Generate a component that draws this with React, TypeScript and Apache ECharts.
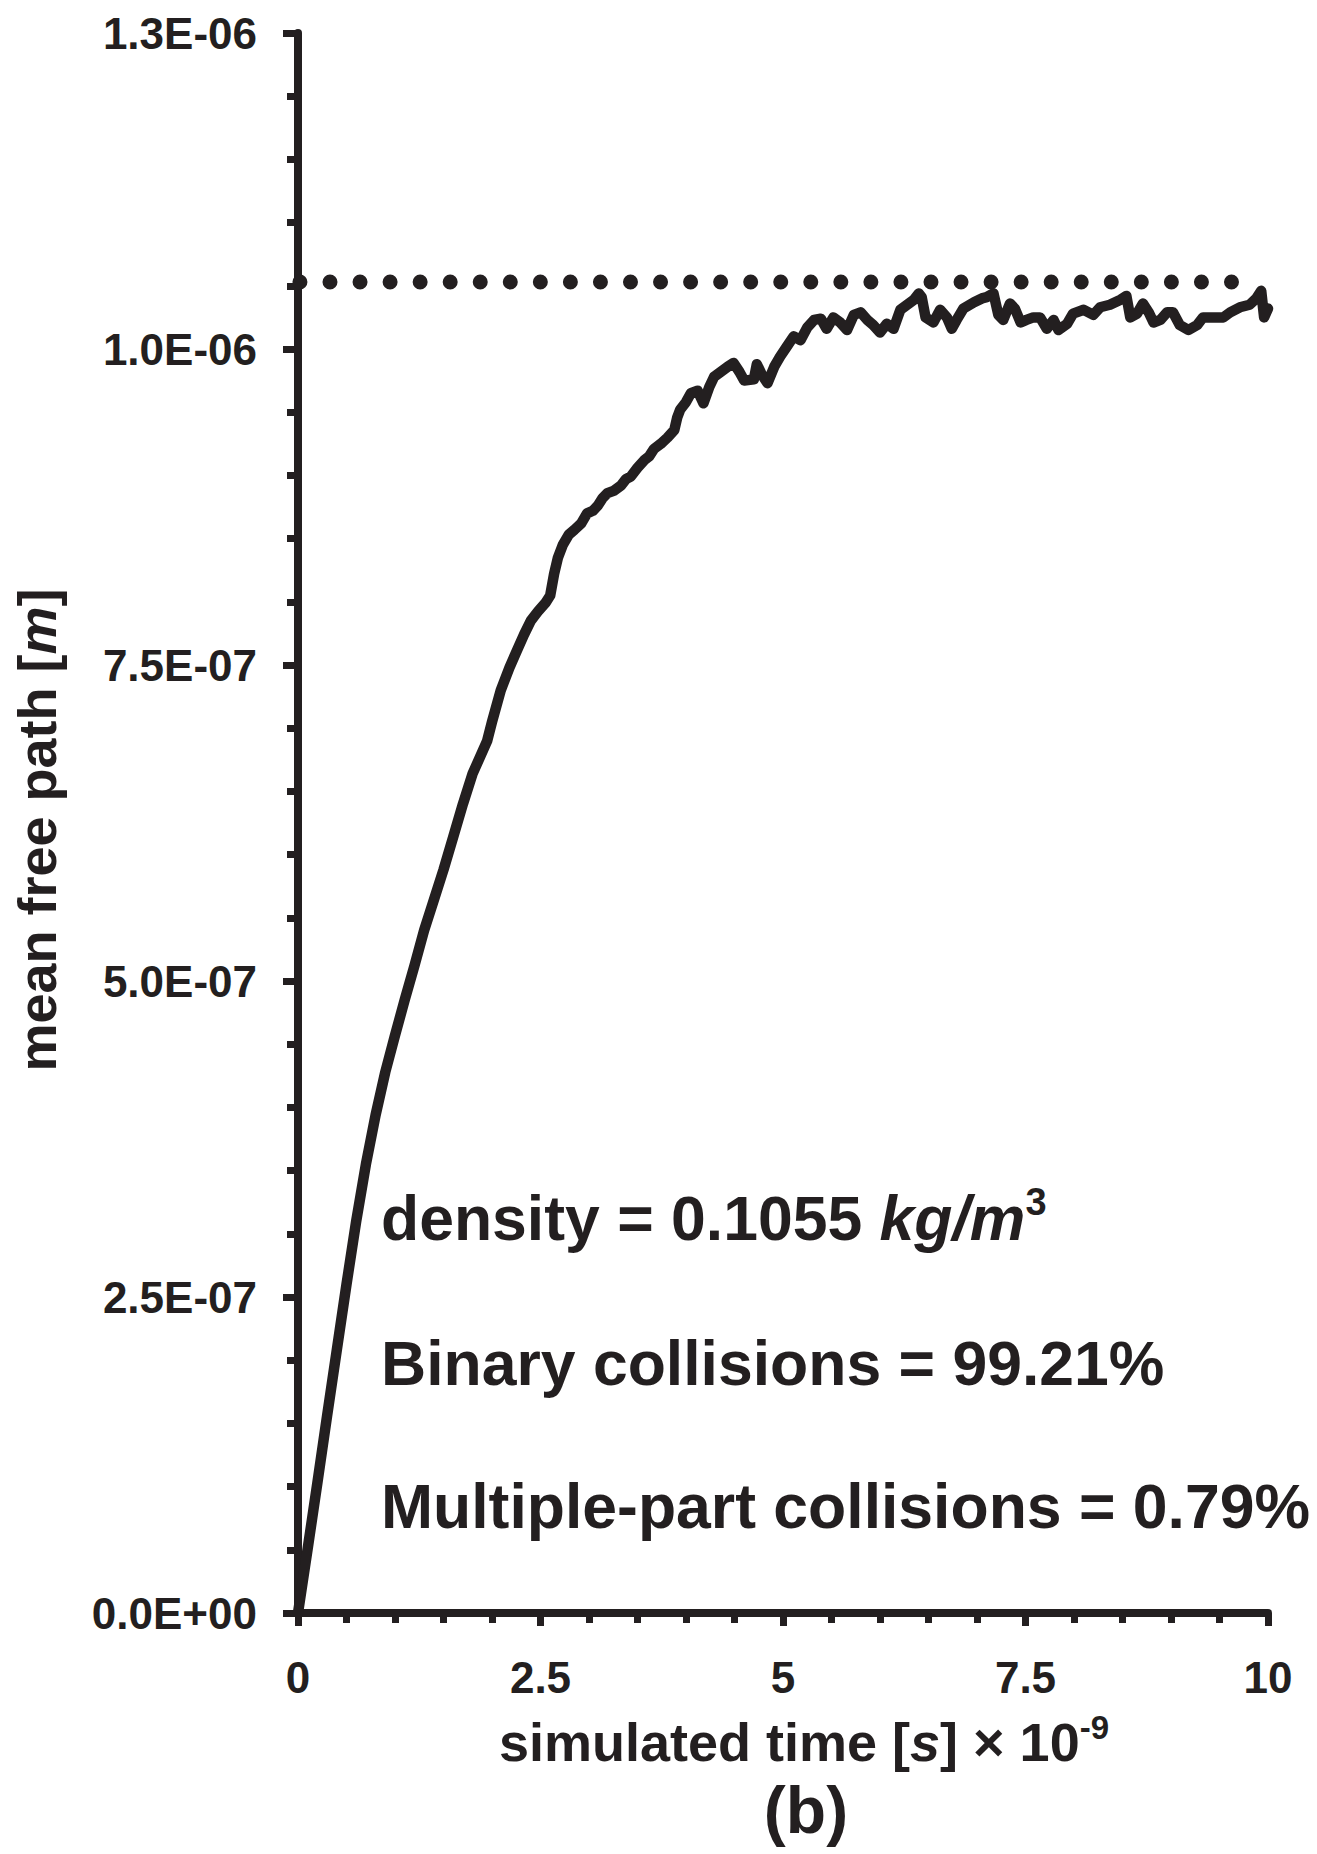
import React, { useEffect, useRef } from "react";
import * as echarts from "echarts";

// simulated time [ns]
const TIME_NS = [
  0, 0.1, 0.2, 0.3, 0.4, 0.5, 0.6, 0.7, 0.8, 0.9, 1.0, 1.1, 1.2, 1.3, 1.4, 1.5, 1.6, 1.7, 1.8, 1.95,
  2.0, 2.09, 2.18, 2.26, 2.33, 2.4, 2.48, 2.55, 2.6, 2.64, 2.68, 2.73, 2.79, 2.85, 2.92, 2.98, 3.04, 3.09, 3.14, 3.19,
  3.26, 3.33, 3.38, 3.43, 3.5, 3.57, 3.62, 3.67, 3.74, 3.81, 3.88, 3.91, 3.94, 4.0, 4.05, 4.12, 4.18, 4.24, 4.29, 4.36,
  4.43, 4.49, 4.55, 4.6, 4.7, 4.73, 4.78, 4.84, 4.91, 4.97, 5.04, 5.11, 5.18, 5.25, 5.32, 5.39, 5.45, 5.52, 5.59, 5.66,
  5.73, 5.8, 5.87, 5.93, 6.0, 6.07, 6.14, 6.21, 6.28, 6.35, 6.4, 6.43, 6.47, 6.55, 6.62, 6.69, 6.74, 6.79, 6.86, 6.97,
  7.05, 7.1, 7.17, 7.22, 7.27, 7.34, 7.39, 7.45, 7.51, 7.58, 7.65, 7.72, 7.79, 7.84, 7.93, 7.99, 8.1, 8.2, 8.27, 8.37,
  8.48, 8.54, 8.58, 8.65, 8.71, 8.77, 8.82, 8.89, 8.96, 9.02, 9.09, 9.18, 9.27, 9.33, 9.44, 9.54, 9.61, 9.71, 9.81, 9.88,
  9.93, 9.96, 10.0,
];

// mean free path [m]
const MFP_M = [
  0, 0.51e-7, 1.03e-7, 1.56e-7, 2.08e-7, 2.6e-7, 3.1e-7, 3.55e-7, 3.94e-7, 4.28e-7, 4.57e-7, 4.85e-7, 5.12e-7, 5.4e-7, 5.64e-7, 5.88e-7, 6.14e-7, 6.4e-7, 6.64e-7, 6.9e-7,
  7.05e-7, 7.3e-7, 7.48e-7, 7.62e-7, 7.74e-7, 7.85e-7, 7.93e-7, 7.99e-7, 8.05e-7, 8.22e-7, 8.35e-7, 8.45e-7, 8.53e-7, 8.57e-7, 8.62e-7, 8.7e-7, 8.72e-7, 8.76e-7, 8.82e-7, 8.86e-7,
  8.88e-7, 8.92e-7, 8.97e-7, 8.99e-7, 9.06e-7, 9.12e-7, 9.15e-7, 9.21e-7, 9.25e-7, 9.3e-7, 9.36e-7, 9.46e-7, 9.52e-7, 9.58e-7, 9.65e-7, 9.67e-7, 9.57e-7, 9.7e-7, 9.78e-7, 9.82e-7,
  9.86e-7, 9.89e-7, 9.82e-7, 9.75e-7, 9.76e-7, 9.88e-7, 9.8e-7, 9.73e-7, 9.86e-7, 9.94e-7, 10.02e-7, 10.1e-7, 10.07e-7, 10.17e-7, 10.23e-7, 10.24e-7, 10.16e-7, 10.25e-7, 10.21e-7, 10.15e-7,
  10.27e-7, 10.29e-7, 10.23e-7, 10.19e-7, 10.13e-7, 10.2e-7, 10.16e-7, 10.31e-7, 10.35e-7, 10.39e-7, 10.44e-7, 10.41e-7, 10.25e-7, 10.21e-7, 10.31e-7, 10.25e-7, 10.16e-7, 10.23e-7, 10.32e-7, 10.37e-7,
  10.4e-7, 10.41e-7, 10.44e-7, 10.27e-7, 10.23e-7, 10.36e-7, 10.32e-7, 10.21e-7, 10.23e-7, 10.25e-7, 10.25e-7, 10.16e-7, 10.23e-7, 10.15e-7, 10.2e-7, 10.28e-7, 10.31e-7, 10.27e-7, 10.33e-7, 10.35e-7,
  10.39e-7, 10.42e-7, 10.25e-7, 10.28e-7, 10.36e-7, 10.29e-7, 10.21e-7, 10.23e-7, 10.29e-7, 10.29e-7, 10.19e-7, 10.15e-7, 10.19e-7, 10.25e-7, 10.25e-7, 10.25e-7, 10.29e-7, 10.33e-7, 10.35e-7, 10.4e-7,
  10.46e-7, 10.25e-7, 10.32e-7,
];

// dotted reference level (theoretical mean free path)
const REF_MFP = 1.053e-6;
const REF_X = [0.02, 9.93];

const Y_TICK_LABELS = ["0.0E+00", "2.5E-07", "5.0E-07", "7.5E-07", "1.0E-06", "1.3E-06"];

const INK = "#231f20";
const FONT = "'Liberation Sans', Arial, Helvetica, sans-serif";

export default function App() {
  const ref = useRef<HTMLDivElement>(null);

  useEffect(() => {
    if (!ref.current) return;
    const chart = echarts.init(ref.current, undefined, { renderer: "svg" });

    const txt = (size: number, extra: any = {}) => ({
      fontSize: size,
      fontWeight: "bold",
      fontFamily: FONT,
      color: INK,
      ...extra,
    });

    const option: any = {
      animation: false,
      backgroundColor: "#ffffff",
      grid: { left: 298, top: 33, width: 970, height: 1580, containLabel: false },
      xAxis: {
        type: "value",
        min: 0,
        max: 10,
        interval: 2.5,
        name: "{a|simulated time [}{i|s}{a|] × 10}{sup|-9}",
        nameLocation: "middle",
        nameGap: 98,
        nameTextStyle: {
          ...txt(54),
          padding: [0, 0, 0, 42],
          rich: {
            a: txt(54, { lineHeight: 62 }),
            i: txt(54, { fontStyle: "italic", lineHeight: 62 }),
            sup: txt(33, { lineHeight: 33, verticalAlign: "top" }),
          },
        },
        axisLine: { show: true, onZero: false, lineStyle: { color: INK, width: 8 } },
        axisTick: { show: true, inside: false, length: 13, lineStyle: { color: INK, width: 7 } },
        minorTick: { show: true, splitNumber: 5, length: 10, lineStyle: { color: INK, width: 7 } },
        splitLine: { show: false },
        minorSplitLine: { show: false },
        axisLabel: { ...txt(44), margin: 42 },
      },
      yAxis: {
        type: "value",
        min: 0,
        max: 1.25e-6,
        interval: 2.5e-7,
        name: "{a|mean free path [}{i|m}{a|]}",
        nameLocation: "middle",
        nameRotate: 90,
        nameGap: 232,
        nameTextStyle: {
          ...txt(54),
          padding: [0, 14, 0, 0],
          rich: {
            a: txt(54, { lineHeight: 58 }),
            i: txt(54, { fontStyle: "italic", lineHeight: 58 }),
          },
        },
        axisLine: { show: true, onZero: false, lineStyle: { color: INK, width: 8 } },
        axisTick: { show: true, inside: false, length: 15, lineStyle: { color: INK, width: 7 } },
        minorTick: { show: true, splitNumber: 5, length: 11, lineStyle: { color: INK, width: 7 } },
        splitLine: { show: false },
        minorSplitLine: { show: false },
        axisLabel: {
          ...txt(44),
          margin: 41,
          formatter: (v: number) => Y_TICK_LABELS[Math.round(v / 2.5e-7)] ?? "",
        },
      },
      series: [
        {
          type: "line",
          name: "reference",
          data: REF_X.map((x) => [x, REF_MFP]),
          showSymbol: false,
          clip: false,
          silent: true,
          z: 2,
          lineStyle: { color: INK, width: 15, type: [0, 30.05], cap: "round" },
        },
        {
          type: "line",
          name: "mean free path",
          data: TIME_NS.map((t, i) => [t, MFP_M[i]]),
          showSymbol: false,
          clip: false,
          z: 3,
          lineStyle: { color: INK, width: 10.5, join: "round", cap: "round" },
        },
      ],
      graphic: [
        {
          type: "text",
          x: 381,
          y: 1218,
          style: {
            text: "{a|density = 0.1055 }{i|kg/m}{sup|3}",
            verticalAlign: "middle",
            rich: {
              a: { fontSize: 62.5, fontWeight: "bold", fontFamily: FONT, fill: INK, lineHeight: 70 },
              i: { fontSize: 62.5, fontWeight: "bold", fontStyle: "italic", fontFamily: FONT, fill: INK, lineHeight: 70 },
              sup: { fontSize: 38, fontWeight: "bold", fontFamily: FONT, fill: INK, lineHeight: 38, verticalAlign: "top" },
            },
          },
        },
        {
          type: "text",
          x: 381,
          y: 1363,
          style: {
            text: "Binary collisions = 99.21%",
            fontSize: 62.5,
            fontWeight: "bold",
            fontFamily: FONT,
            fill: INK,
            verticalAlign: "middle",
          },
        },
        {
          type: "text",
          x: 381,
          y: 1506,
          style: {
            text: "Multiple-part collisions = 0.79%",
            fontSize: 62.5,
            fontWeight: "bold",
            fontFamily: FONT,
            fill: INK,
            verticalAlign: "middle",
          },
        },
        {
          type: "text",
          x: 806,
          y: 1810,
          style: {
            text: "(b)",
            fontSize: 66,
            fontWeight: "bold",
            fontFamily: FONT,
            fill: INK,
            align: "center",
            verticalAlign: "middle",
          },
        },
      ],
    };

    chart.setOption(option);
    return () => chart.dispose();
  }, []);

  return (
    <div
      ref={ref}
      style={{ position: "absolute", left: 0, top: 0, width: 1317, height: 1854, background: "#fff" }}
    />
  );
}
